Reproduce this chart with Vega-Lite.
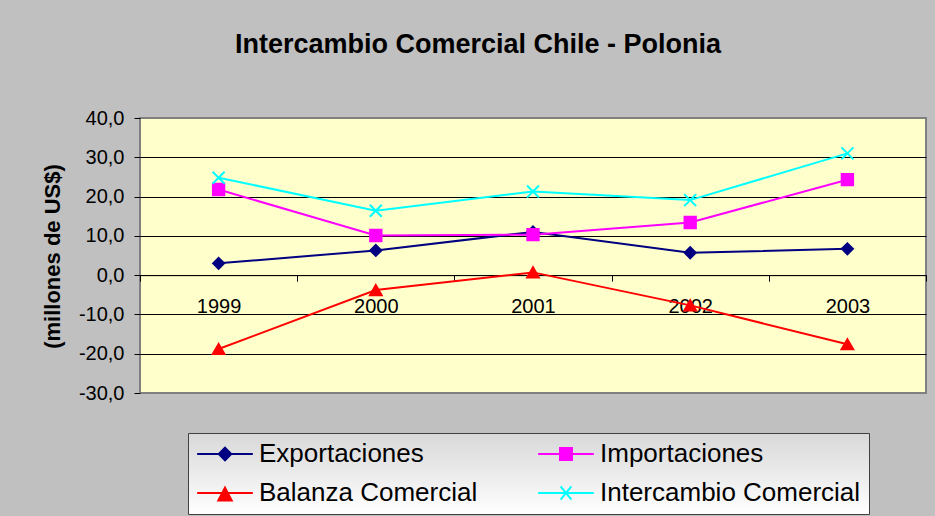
{
  "$schema": "https://vega.github.io/schema/vega-lite/v6.json",
  "width": 786,
  "height": 275,
  "autosize": {"type": "none"},
  "padding": {"left": 140, "top": 118, "right": 9, "bottom": 123},
  "background": "#C0C0C0",
  "title": {
    "text": "Intercambio Comercial Chile - Polonia",
    "font": "Liberation Sans",
    "fontSize": 27,
    "fontWeight": "bold",
    "color": "#000000",
    "anchor": "middle",
    "frame": "group",
    "dx": -55,
    "baseline": "alphabetic",
    "offset": 28
  },
  "data": {
    "values": [
      {"year": "1999", "series": "Exportaciones", "value": 3.0},
      {"year": "2000", "series": "Exportaciones", "value": 6.3},
      {"year": "2001", "series": "Exportaciones", "value": 11.0},
      {"year": "2002", "series": "Exportaciones", "value": 5.7},
      {"year": "2003", "series": "Exportaciones", "value": 6.7},
      {"year": "1999", "series": "Importaciones", "value": 21.8},
      {"year": "2000", "series": "Importaciones", "value": 10.1},
      {"year": "2001", "series": "Importaciones", "value": 10.3},
      {"year": "2002", "series": "Importaciones", "value": 13.4},
      {"year": "2003", "series": "Importaciones", "value": 24.3},
      {"year": "1999", "series": "Balanza Comercial", "value": -18.8},
      {"year": "2000", "series": "Balanza Comercial", "value": -3.8},
      {"year": "2001", "series": "Balanza Comercial", "value": 0.7},
      {"year": "2002", "series": "Balanza Comercial", "value": -7.7},
      {"year": "2003", "series": "Balanza Comercial", "value": -17.6},
      {"year": "1999", "series": "Intercambio Comercial", "value": 24.8},
      {"year": "2000", "series": "Intercambio Comercial", "value": 16.4},
      {"year": "2001", "series": "Intercambio Comercial", "value": 21.3},
      {"year": "2002", "series": "Intercambio Comercial", "value": 19.1},
      {"year": "2003", "series": "Intercambio Comercial", "value": 31.0}
    ]
  },
  "encoding": {
    "x": {
      "field": "year",
      "type": "ordinal",
      "scale": {"type": "band", "paddingInner": 0, "paddingOuter": 0},
      "axis": {
        "orient": "bottom",
        "offset": -117.86,
        "title": null,
        "labelAngle": 0,
        "labelFont": "Liberation Sans",
        "labelFontSize": 20,
        "labelColor": "#000000",
        "labelBaseline": "alphabetic",
        "labelPadding": 31,
        "tickBand": "extent",
        "tickSize": 6,
        "tickColor": "#000000",
        "domainColor": "#000000",
        "domainWidth": 1,
        "grid": false
      }
    },
    "y": {
      "field": "value",
      "type": "quantitative",
      "scale": {"domain": [-30, 40], "nice": false, "zero": false},
      "axis": {
        "values": [-30, -20, -10, 0, 10, 20, 30, 40],
        "format": ".1f",
        "labelFont": "Liberation Sans",
        "labelFontSize": 20,
        "labelColor": "#000000",
        "labelPadding": 10,
        "tickSize": 6,
        "tickColor": "#000000",
        "domain": false,
        "grid": true,
        "gridColor": {"condition": {"test": "datum.value === 40 || datum.value === -30", "value": "#808080"}, "value": "#000000"},
        "gridWidth": 1,
        "title": "(millones de US$)",
        "titleFont": "Liberation Sans",
        "titleFontSize": 22,
        "titleFontWeight": "bold",
        "titleColor": "#000000",
        "titleX": -88,
        "titleY": 138,
        "titleAngle": -90,
        "titleAlign": "center",
        "titleBaseline": "middle"
      }
    }
  },
  "resolve": {"legend": {"color": "independent"}},
  "layer": [
    {
      "mark": {"type": "line", "strokeWidth": 2},
      "encoding": {
        "color": {
          "field": "series",
          "type": "nominal",
          "scale": {
            "domain": ["Exportaciones", "Importaciones", "Balanza Comercial", "Intercambio Comercial"],
            "range": ["#000080", "#FF00FF", "#FF0000", "#00FFFF"]
          },
          "legend": {
            "orient": "none",
            "legendX": 48,
            "legendY": 315,
            "columns": 2,
            "direction": "horizontal",
            "title": null,
            "labelFont": "Liberation Sans",
            "labelFontSize": 26,
            "labelColor": "#000000",
            "labelLimit": 400,
            "symbolSize": 576,
            "symbolOffset": 16,
            "labelOffset": 21,
            "padding": 8,
            "rowPadding": 13,
            "columnPadding": 56,
            "strokeColor": "#404040",
            "fillColor": "#F0F0F0",
            "encode": {
              "symbols": {
                "update": {
                  "shape": {"signal": "datum.value === 'Exportaciones' ? 'M-2.32,0H2.32M0,-0.52L0.52,0L0,0.52L-0.52,0Z' : datum.value === 'Importaciones' ? 'M-2.32,0H2.32M-0.5,-0.5H0.5V0.5H-0.5Z' : datum.value === 'Balanza Comercial' ? 'M-2.32,0H2.32M0,-0.45L0.56,0.62L-0.56,0.62Z' : 'M-2.32,0H2.32M-0.45,-0.55L0.45,0.55M-0.45,0.55L0.45,-0.55'"},
                  "stroke": {"signal": "scale('color', datum.value)"},
                  "fill": {"signal": "scale('color', datum.value)"},
                  "strokeWidth": {"value": 2},
                  "opacity": {"value": 1}
                }
              },
              "legend": {
                "update": {
                  "fill": {"value": {"gradient": "linear", "x1": 0, "y1": 0, "x2": 0, "y2": 1, "stops": [{"offset": 0, "color": "#D8D8D8"}, {"offset": 1, "color": "#FFFFFF"}]}}
                }
              }
            }
          }
        }
      }
    },
    {
      "mark": {"type": "point", "filled": true, "opacity": 1, "strokeWidth": 2},
      "encoding": {
        "color": {
          "field": "series",
          "type": "nominal",
          "scale": {
            "domain": ["Exportaciones", "Importaciones", "Balanza Comercial", "Intercambio Comercial"],
            "range": ["#000080", "#FF00FF", "#FF0000", "#00FFFF"]
          },
          "legend": null
        },
        "stroke": {
          "field": "series",
          "type": "nominal",
          "scale": {
            "domain": ["Exportaciones", "Importaciones", "Balanza Comercial", "Intercambio Comercial"],
            "range": ["#000080", "#FF00FF", "#FF0000", "#00FFFF"]
          },
          "legend": null
        },
        "shape": {
          "field": "series",
          "type": "nominal",
          "scale": {
            "domain": ["Exportaciones", "Importaciones", "Balanza Comercial", "Intercambio Comercial"],
            "range": ["diamond", "square", "triangle-up", "M-1,-1L1,1M-1,1L1,-1"]
          },
          "legend": null
        },
        "size": {
          "field": "series",
          "type": "nominal",
          "scale": {
            "domain": ["Exportaciones", "Importaciones", "Balanza Comercial", "Intercambio Comercial"],
            "range": [121, 144, 200, 170]
          },
          "legend": null
        }
      }
    }
  ],
  "config": {
    "view": {"fill": "#FFFFCC", "stroke": "#808080", "strokeWidth": 2},
    "locale": {
      "number": {"decimal": ",", "thousands": ".", "grouping": [3], "currency": ["", " €"], "minus": "-"}
    }
  }
}
